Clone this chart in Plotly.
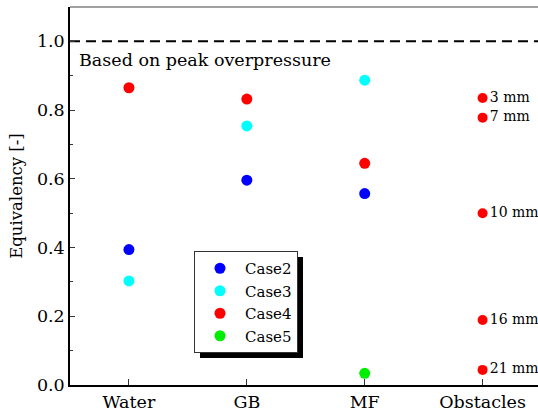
import plotly.graph_objects as go

categories = ["Water", "GB", "MF", "Obstacles"]
case2 = [0.394, 0.596, 0.557]
case3 = [0.303, 0.754, 0.887]
case4 = [0.865, 0.832, 0.645]
case5_cat = ["MF"]
case5 = [0.034]
obst_vals = [0.835, 0.778, 0.500, 0.189, 0.044]
obst_labels = ["3 mm", "7 mm", "10 mm", "16 mm", "21 mm"]

FONT = "DejaVu Serif"
W, H = 538, 414
ML, MR, MT, MB = 70, 0, 7, 29
pw, ph = W - ML - MR, H - MT - MB

def px2paper(x, y):
    return (x - ML) / pw, (H - MB - y) / ph

fig = go.Figure()
ms = 11
fig.add_trace(go.Scatter(x=categories[:3], y=case2, mode="markers", name="Case2",
                         marker=dict(color="#0000FF", size=ms)))
fig.add_trace(go.Scatter(x=categories[:3], y=case3, mode="markers", name="Case3",
                         marker=dict(color="#00FFFF", size=ms)))
fig.add_trace(go.Scatter(x=categories[:3], y=case4, mode="markers", name="Case4",
                         marker=dict(color="#FF0000", size=ms)))
fig.add_trace(go.Scatter(x=case5_cat, y=case5, mode="markers", name="Case5",
                         marker=dict(color="#00EE00", size=ms)))
fig.add_trace(go.Scatter(x=["Obstacles"] * len(obst_vals), y=obst_vals, mode="markers+text",
                         text=obst_labels, textposition="middle right", showlegend=False,
                         textfont=dict(family=FONT, size=14, color="black"),
                         marker=dict(color="#FF0000", size=10)))

# shadow for legend
sx0, sy0 = px2paper(200, 358)
sx1, sy1 = px2paper(303, 257)
fig.add_shape(type="rect", xref="paper", yref="paper", x0=sx0, x1=sx1, y0=sy0, y1=sy1,
              fillcolor="black", line=dict(width=0), layer="above")
# reference dashed line at 1.0
fig.add_shape(type="line", xref="paper", yref="y", x0=0, x1=1, y0=1.0, y1=1.0,
              line=dict(color="black", width=2, dash="10px,6px"), layer="below")
# top frame line
fig.add_shape(type="line", xref="paper", yref="paper", x0=0, x1=1, y0=1, y1=1,
              line=dict(color="#444", width=1.2))

fig.add_annotation(xref="paper", yref="y", x=px2paper(77, 0)[0], y=0.945, xanchor="left",
                   yanchor="middle", text="Based on peak overpressure", showarrow=False,
                   font=dict(family=FONT, size=17.5, color="black"))

lx, ly = px2paper(194, 251)
fig.update_layout(
    width=W, height=H,
    margin=dict(l=ML, r=MR, t=MT, b=MB, pad=0),
    paper_bgcolor="white", plot_bgcolor="white",
    font=dict(family=FONT, size=17, color="black"),
    showlegend=True,
    legend=dict(x=lx, y=ly, xanchor="left", yanchor="top", bgcolor="white",
                bordercolor="#333", borderwidth=1, itemwidth=40,
                font=dict(family=FONT, size=15, color="black"),
                tracegroupgap=0),
    xaxis=dict(type="category", categoryorder="array", categoryarray=categories,
               range=[-0.5, 3.47], showgrid=False, zeroline=False,
               showline=True, linecolor="black", linewidth=1.5,
               ticks="inside", ticklen=6, tickcolor="#333",
               tickfont=dict(family=FONT, size=17.5)),
    yaxis=dict(range=[0, 1.1], dtick=0.2, tickformat=".1f", showgrid=False, zeroline=False,
               showline=True, linecolor="black", linewidth=1.5,
               ticks="inside", ticklen=5, tickcolor="#333",
               minor=dict(dtick=0.1, ticks="inside", ticklen=3, tickcolor="#333"),
               tickfont=dict(family=FONT, size=17.5),
               title=dict(text="Equivalency [-]", font=dict(family=FONT, size=16.5), standoff=10)),
)
fig.write_html("out.html")
